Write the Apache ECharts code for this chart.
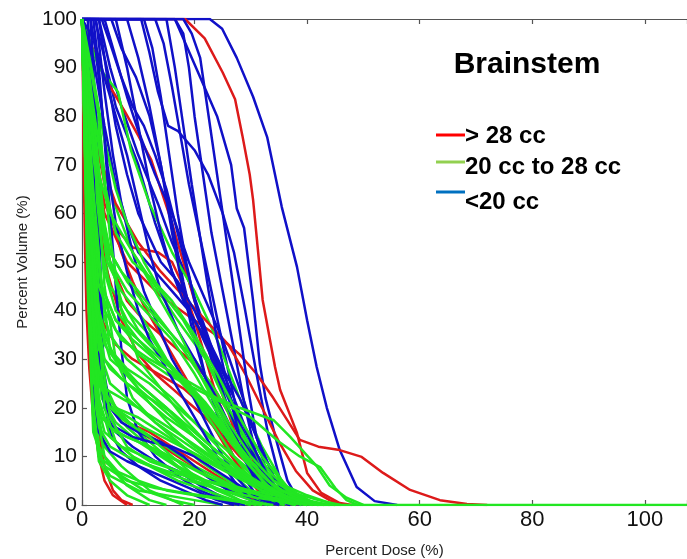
<!DOCTYPE html>
<html><head><meta charset="utf-8">
<script src="https://cdn.jsdelivr.net/npm/echarts@6/dist/echarts.min.js"></script>
<style>html,body{margin:0;padding:0;background:#fff}#c{width:687px;height:559px}</style>
</head><body><div id="c"></div>
<script>
// ---- Data (Percent Dose %, Percent Volume %) ----
const xTicks = [0, 20, 40, 60, 80, 100];
const yTicks = [0, 10, 20, 30, 40, 50, 60, 70, 80, 90, 100];
const legendLabels = ['> 28 cc', '20 cc to 28 cc', '<20 cc'];
const chartTitle = 'Brainstem';

const greenCurves = [
  [[0,100],[1,70],[2,30],[3,12],[5,8],[8,4],[12,1],[15,0]],
  [[0,100],[1,75],[2,40],[3,18],[4,12],[7,8],[12,3],[18,0]],
  [[0,100],[1.5,70],[3,40],[4,25],[6,20],[10,15],[15,10],[20,5],[25,1],[28,0]],
  [[0,100],[1,85],[2.5,55],[4,35],[6,30],[10,25],[15,20],[20,14],[25,8],[30,3],[35,0]],
  [[0,100],[2,80],[3.5,55],[5,45],[8,38],[12,33],[17,27],[22,20],[27,12],[32,5],[37,1],[40,0]],
  [[0,100],[1,60],[2,25],[3,10],[5,6],[10,3],[20,1],[25,0]],
  [[0,100],[2,85],[4,68],[6.4,60],[9,52],[13,45],[17,38],[22,30],[27,20],[32,10],[37,3],[42,0]],
  [[0,100],[3,90],[6.4,85],[8.7,73],[12,62],[16,52],[20,44],[24,34],[28,22],[32,12],[36,4],[40,0]],
  [[0,100],[1.5,75],[3,55],[5,45],[8,40],[12,35],[16,28],[20,22],[24,15],[28,8],[32,3],[35,0]],
  [[0,100],[1,65],[2.5,35],[4,22],[7,18],[11,15],[15,12],[20,8],[25,5],[30,2],[34,0]],
  [[0,100],[1,80],[2,60],[3,42],[5,35],[8,30],[12,26],[16,22],[20,17],[25,11],[30,5],[35,1],[38,0]],
  [[0,100],[1.5,78],[3,50],[5,32],[8,28],[12,25],[18,19],[24,13],[30,7],[36,3],[42,1],[46,0]],
  [[0,100],[0.8,70],[2,40],[3.5,22],[6,17],[10,13],[14,10],[18,7],[23,4],[28,1],[31,0]],
  [[0,100],[2,75],[3.5,60],[5,52],[8,46],[12,40],[16,35],[20,30],[24,23],[28,15],[32,8],[36,3],[39,0]],
  [[0,100],[1,72],[2,48],[3,32],[5,25],[9,21],[13,17],[17,13],[21,9],[26,5],[31,2],[35,0]],
  [[0,100],[1,55],[2,20],[3,9],[5,5],[8,2],[12,0]],
  [[0,100],[2,70],[4,48],[6,40],[10,34],[14,29],[19,24],[24,17],[29,10],[34,5],[40,2],[45,0]],
  [[0,100],[1,60],[3,28],[5,20],[8,16],[12,12],[17,8],[22,5],[27,3],[32,1],[36,0]],
  [[0,100],[1.5,82],[3,62],[4.5,50],[7,44],[11,38],[15,30],[19,24],[23,17],[27,10],[31,5],[35,2],[38,0]],
  [[0,100],[1,68],[2,42],[3,28],[4.5,22],[7,19],[11,16],[16,13],[21,10],[26,7],[31,4],[36,2],[40,0]],
  [[0,100],[0.7,80],[1.5,50],[2.5,20],[4,10],[7,6],[11,3],[16,1],[20,0]],
  [[0,100],[2,88],[4,75],[6,65],[8,58],[11,50],[14,44],[18,38],[22,30],[26,20],[30,12],[34,6],[38,2],[41,0]],
  [[0,100],[1,76],[2,55],[3,40],[5,32],[8,27],[12,21],[16,16],[20,12],[25,8],[30,5],[35,3],[40,1],[44,0]],
  [[0,100],[2,60],[4,40],[7,34],[12,30],[18,26],[24,22],[28,20],[34,17.5],[37,14],[41.7,8],[44,4],[47,1.5],[50,0]],
  [[0,100],[1.5,65],[3,45],[6,36],[10,31],[15,27],[20,24],[25,21],[30,18],[35,13],[38.7,10],[42.3,7.8],[45,3.5],[47,1],[49,0]],
  [[0,100],[1,62],[2,36],[3.5,24],[6,20],[10,18],[14,15],[18,12],[22,9],[27,6],[32,3],[37,1],[40,0]],
  [[0,100],[1,90],[2,78],[3,68],[5,60],[8,54],[11,48],[14,42],[17,36],[20,29],[24,20],[28,12],[32,6],[36,2],[39,0]],
  [[0,100],[1.2,70],[2.4,45],[4,33],[7,28],[10,24],[14,20],[18,16],[23,11],[28,6],[33,2],[36,0]],
  [[0,100],[0.5,85],[1.2,60],[2,38],[3,25],[5,20],[8,17],[12,14],[16,10],[20,6],[24,3],[28,1],[30,0]],
  [[0,100],[2,82],[4,66],[6,56],[9,50],[12,47],[16,42],[20,35],[24,27],[28,18],[32,10],[36,4],[40,1],[42,0]],
  [[0,100],[1,78],[2,58],[3.5,45],[6,38],[9,34],[13,30],[17,26],[21,21],[25,15],[29,9],[33,4],[37,1],[40,0]],
  [[0,100],[1,58],[2,30],[3,16],[5,12],[8,10],[12,8],[17,5],[22,3],[27,1],[30,0]],
  [[0,100],[1.5,80],[3,64],[5,52],[7,48],[10,44],[14,38],[18,32],[22,25],[26,17],[30,10],[34,5],[38,2],[41,0]],
  [[0,100],[1,66],[2,44],[3,32],[5,28],[8,25],[12,22],[16,19],[21,14],[26,9],[31,5],[36,2],[40,0]],
  [[0,100],[0.6,70],[1.5,40],[2.5,22],[4,15],[7,12],[11,10],[15,8],[20,5],[25,3],[30,1],[33,0]],
  [[0,100],[2,72],[3.5,58],[5,50],[8,44],[12,39],[16,34],[20,27],[24,19],[28,11],[32,5],[35,2],[38,0]],
  [[0,100],[1,50],[2,18],[3,10],[6,7],[10,5],[15,3],[20,2],[26,1],[32,0]],
  [[0,100],[1.5,60],[3,22],[5,14],[9,10],[14,7],[19,5],[25,3],[31,1.5],[37,0.5],[42,0]],
  [[0,100],[2,55],[4,20],[6,13],[10,9],[15,7],[20,5.5],[26,4],[32,2.5],[38,1],[44,0]],
  [[0,100],[1,45],[2,15],[4,8],[8,5],[13,3.5],[18,2.5],[24,1.5],[30,0.5],[34,0]],
  [[0,100],[1.5,65],[3,35],[5,18],[8,12],[12,9],[17,7],[22,5],[28,3],[34,1.5],[40,0.5],[45,0]],
  [[0,100],[2.5,70],[4,45],[6,30],[9,22],[13,17],[18,13],[23,9],[28,6],[33,3],[38,1],[43,0]],
  [[0,100],[1,72],[2,35],[3,20],[5,16],[8,14],[12,12],[17,9],[22,6],[27,4],[32,2],[37,0.5],[40,0]],
  [[0,100],[1.5,60],[3,38],[5,30],[8,27],[11,24],[15,20],[19,16],[24,11],[29,6],[34,2.5],[38,0.5],[41,0]],
  [[0,100],[1,55],[2.5,30],[4,24],[7,22],[10,20],[14,17],[18,14],[23,10],[28,6],[33,3],[38,1],[42,0]],
  [[0,100],[2,65],[3.5,45],[6,38],[9,35],[13,31],[17,27],[21,22],[25,16],[29,10],[33,5],[37,2],[41,0]],
  [[0,100],[1,50],[2,26],[3.5,18],[6,15],[10,13],[14,11],[19,8],[24,5],[29,3],[34,1],[38,0]],
  [[0,100],[2.5,75],[4.5,52],[7,42],[10,36],[14,31],[18,26],[22,21],[26,15],[30,9],[34,4],[38,1.5],[43,0]],
  [[0,100],[1.2,62],[2.5,40],[4,30],[7,26],[11,22],[15,18],[20,14],[25,9],[30,5],[35,2],[39,0]],
  [[0,100],[3,80],[5,55],[7,40],[10,30],[14,24],[18,18],[22,13],[27,8],[32,4],[37,1.5],[42,0],[108,0]]
];

const blueCurves = [
  [[0,100],[22.7,100],[24.9,98],[27.5,92],[30.4,84],[32.9,75.7],[35.5,61.3],[38.2,49],[40,38],[41.7,28.4],[43.5,20],[45.8,11.3],[48.8,3.7],[52,0.8],[56,0]],
  [[0,100],[16.5,100],[18,96],[21,88],[24,80],[26.5,70],[27.5,61],[28.8,57],[30.4,42],[31.6,29],[32.6,22],[34.6,13],[36.5,5],[38.5,1],[40,0]],
  [[0,100],[2.3,100],[4,92],[6,82],[8,76],[10,70],[13,58],[16,48],[20,38],[24,28],[28,18],[32,8],[35,2],[37,0]],
  [[0,100],[3,100],[5,90],[7,82],[10,72],[13.5,62],[16,54],[19,46],[22,36],[25,26],[28,16],[31,8],[34,2],[36,0]],
  [[0,100],[5.2,100],[7,94],[9.6,88],[12,80],[14,70],[16,58],[18,46],[20,36],[22,26],[25,15],[28,7],[31,2],[33,0]],
  [[0,100],[10.5,100],[12,93],[13.5,85],[15.3,78],[17,77],[20,73],[22.4,68],[25,60],[27,52],[29,40],[31,27],[33,15],[35,6],[37,1],[39,0]],
  [[0,100],[13,100],[14.5,95],[16,86],[17.5,76],[19,66],[21,55],[23,44],[25,33],[27,22],[29,12],[31,5],[33,1],[35,0]],
  [[0,100],[16.5,100],[18,97],[19,90],[20,80],[21.5,68],[23,56],[25,44],[27,32],[29,20],[31,10],[33,3],[35,0]],
  [[0,100],[18,100],[19.5,97],[21,92],[22,84],[23.5,72],[25,60],[26.5,48],[28,36],[29.5,24],[31,14],[33,6],[35,1],[37,0]],
  [[0,100],[2.5,100],[4,85],[5.5,72],[7,62],[9,52],[11,44],[13.5,37],[16,30],[19,24],[22,17],[25,10],[28,5],[31,1],[33,0]],
  [[0,100],[2,100],[3,90],[4,75],[5,60],[6,45],[7,32],[8,22],[10,15],[13,10],[17,6],[21,3],[25,1],[28,0]],
  [[0,100],[1.5,100],[2.5,80],[3,60],[3.5,40],[4,22],[5,15],[7,11],[10,8],[14,5],[18,3],[22,1],[25,0]],
  [[0,100],[3,100],[4.5,88],[6,78],[8,68],[10,60],[12,55],[14,50],[17,46],[20,40],[23,32],[26,22],[29,13],[32,6],[35,1],[37,0]],
  [[0,100],[1,100],[2,85],[2.5,65],[3,45],[3.5,28],[4.5,18],[6,15],[9,12],[13,9],[17,7],[21,4],[26,1],[29,0]],
  [[0,100],[4,100],[6,92],[8,84],[10,77],[13,68],[16,60],[19,50],[22,42],[25,34],[28,24],[31,14],[34,6],[37,1],[39,0]],
  [[0,100],[8,100],[10,92],[12,82],[14,70],[16,56],[18,44],[20,34],[22,26],[25,18],[28,11],[31,5],[34,1],[36,0]],
  [[0,100],[11,100],[12.5,94],[14,84],[15.5,72],[17,60],[18.5,50],[20,42],[22,35],[25,28],[28,22],[31,14],[34,6],[37,1],[39,0]],
  [[0,100],[2,96],[4,88],[6,80],[8,72],[10,62],[12,52],[14,44],[17,36],[20,30],[23,24],[26,17],[29,10],[32,4],[35,1],[37,0]],
  [[0,100],[0.5,90],[1,70],[1.5,45],[2,25],[3,15],[5,11],[8,9],[12,7],[16,5],[20,3],[24,1],[27,0]],
  [[0,100],[1,95],[2,70],[2.5,50],[3.5,30],[5,20],[7,17],[10,15],[14,13],[18,10],[22,6],[26,3],[30,1],[33,0]],
  [[0,100],[3.5,100],[5,95],[7,88],[9,82],[11,78],[13,72],[15,65],[17,56],[19,47],[21,38],[23,30],[26,20],[29,11],[32,4],[35,0]],
  [[0,100],[2,92],[4,78],[6,66],[8,58],[10,52],[13,48],[16,44],[19,40],[22,34],[25,26],[28,17],[31,9],[34,3],[37,0]],
  [[0,100],[1,80],[2,50],[3,30],[4,20],[6,16],[9,14],[12,13],[16,12],[20,10],[24,7],[28,4],[32,1],[35,0]],
  [[0,100],[6,100],[8,90],[10,78],[12,66],[14,56],[16,48],[18,42],[21,36],[24,30],[27,22],[30,13],[33,6],[36,1],[38,0]],
  [[0,100],[15,100],[16.5,90],[18,78],[19.5,66],[21,55],[22.5,44],[24,34],[26,24],[28,14],[30,7],[32,2],[34,0]],
  [[0,100],[1.5,100],[2.5,93],[3.5,82],[4.5,70],[6,58],[8,48],[10,40],[12,34],[15,28],[18,22],[21,16],[24,10],[27,5],[30,1],[32,0]]
];

// steep reds hugging the y axis are drawn first (underneath)
const redSteepCurves = [
  [[0,100],[0.2,85],[0.3,70],[0.5,55],[0.8,40],[1.3,28],[2,18],[3,10],[4,5],[5.5,2],[8,0]],
  [[0,100],[1,60],[2,30],[3,15],[4,8],[5.5,3],[7,1],[9,0]],
  [[0,100],[0.8,70],[1.8,40],[3,25],[5,20],[8,17],[12,15],[16,12],[20,9],[24,6],[28,3],[32,1],[35,0]],
  [[0,100],[0.5,75],[1,52],[2,35],[3.5,25],[6,20],[9,16],[13,13],[17,10],[21,7],[25,4],[29,2],[33,0]]
];

const redCurves = [
  [[0,100],[18.3,100],[21.8,96],[25,89],[27.2,83.5],[28.5,76],[29.8,68],[30.4,62.8],[31.3,52],[32.1,42.2],[33.4,34],[34.3,28.4],[35.2,23.7],[36.8,19],[38.2,14.8],[40,6.6],[42.5,2.5],[45.8,0.4],[48,0]],
  [[0,100],[2,75],[4,60],[8,50],[14,43],[20,38],[25,34],[28,31],[31,27],[34,22],[38.7,13.4],[42,12],[45.8,11.3],[49.7,9.9],[53.5,6.6],[58.3,3.1],[63.6,1],[68.4,0.2],[72,0]],
  [[0,100],[1,88],[2.5,72],[4,62],[6,57],[9,53],[11,52.5],[13.5,52],[16,50],[18,45],[20,38],[22,30],[24,22],[27,14],[30,7],[33,2],[35,0]],
  [[0,100],[1.5,95],[4,88],[7.6,81],[10,76],[12.3,71],[14,65],[16,58],[18,50],[20,42],[22,34],[24,26],[26,19],[28,12],[31,5],[34,1],[36,0]],
  [[0,100],[1,70],[2,48],[3.5,38],[6,33],[9,30],[12,28],[15,26],[18,24],[21,21],[24,16],[27,10],[30,5],[33,1],[35,0]],
  [[0,100],[1.5,80],[3,62],[5,50],[8,42],[11,38],[14,35],[17,32],[20,29],[23,25],[26,19],[29,12],[32,6],[35,2],[38,0]],
  [[0,100],[2,70],[4,50],[7,38],[10,31],[13,27],[16,24],[19,21],[22,18],[25,14],[28,10],[31,7],[34,4],[37,2],[40,0]],
  [[0,100],[1.5,85],[3,72],[6,62],[10,54],[14,48],[18,43],[22,38],[26,33],[29,27],[32,20],[35,13],[38,7],[41,3],[44,1],[46,0]],
  [[0,100],[1,90],[3,72],[5,60],[7,52],[9,46],[11,41],[14,35],[17,29],[20,23],[23,17],[26,11],[29,6],[32,2],[35,0]]
];

// ---- Styles ----
const FONT = '"Liberation Sans", Arial, Helvetica, sans-serif';
const LINE_COLORS = { red: '#dd1a1a', green: '#22e622', blue: '#1010c8' };
const LEGEND_COLORS = ['#ff0000', '#92d050', '#0070c0'];

const series = [];
function addCurve(data, color) {
  series.push({
    type: 'line', data: data, showSymbol: false, symbol: 'none',
    smooth: false, silent: true, animation: false,
    lineStyle: { color: color, width: 2.5 }
  });
}
redSteepCurves.forEach(c => addCurve(c, LINE_COLORS.red));
const nMax = Math.max(greenCurves.length, blueCurves.length, redCurves.length);
for (let i = 0; i < nMax; i++) {
  if (blueCurves[i]) addCurve(blueCurves[i], LINE_COLORS.blue);
  if (greenCurves[i]) addCurve(greenCurves[i], LINE_COLORS.green);
  if (redCurves[i]) addCurve(redCurves[i], LINE_COLORS.red);
}

const axisLineStyle = { color: '#555', width: 1.2 };
const chart = echarts.init(document.getElementById('c'), null, { renderer: 'canvas' });

const legendGraphics = [];
const legY = [135, 162, 192];
const legTextY = [136, 167, 202];
for (let i = 0; i < legendLabels.length; i++) {
  legendGraphics.push({
    type: 'line', shape: { x1: 436, y1: legY[i], x2: 465, y2: legY[i] },
    style: { stroke: LEGEND_COLORS[i], lineWidth: 3 }, z: 100
  });
  legendGraphics.push({
    type: 'text', x: 465, y: legTextY[i],
    style: { text: legendLabels[i], font: 'bold 24px ' + FONT, fill: '#000', textVerticalAlign: 'middle', verticalAlign: 'middle' }, z: 100
  });
}
legendGraphics.push({
  type: 'text', x: 527, y: 65,
  style: { text: chartTitle, font: 'bold 30px ' + FONT, fill: '#000', textAlign: 'center', align: 'center', textVerticalAlign: 'middle', verticalAlign: 'middle' }, z: 100
});

chart.setOption({
  backgroundColor: '#fff',
  animation: false,
  grid: { left: 82, right: 0, top: 19, bottom: 54, containLabel: false, outerBoundsMode: 'none' },
  xAxis: [{
    type: 'value', min: 0, max: 107.5, interval: 20,
    name: 'Percent Dose (%)', nameLocation: 'middle', nameGap: 38,
    nameTextStyle: { fontFamily: FONT, fontSize: 15, color: '#222' },
    axisLine: { show: true, lineStyle: axisLineStyle },
    axisTick: { show: true, inside: true, length: 5, lineStyle: axisLineStyle },
    axisLabel: { fontFamily: FONT, fontSize: 22, color: '#111', margin: 4,
      formatter: v => (xTicks.indexOf(v) >= 0 ? String(v) : '') },
    splitLine: { show: false }
  }, {
    type: 'value', min: 0, max: 107.5, interval: 20, position: 'top',
    axisLine: { show: true, lineStyle: axisLineStyle },
    axisTick: { show: true, inside: true, length: 5, lineStyle: axisLineStyle },
    axisLabel: { show: false }, splitLine: { show: false }
  }],
  yAxis: [{
    type: 'value', min: 0, max: 100, interval: 10,
    name: 'Percent Volume (%)', nameLocation: 'middle', nameGap: 52, nameRotate: 90,
    nameTextStyle: { fontFamily: FONT, fontSize: 15, color: '#222' },
    axisLine: { show: true, lineStyle: axisLineStyle },
    axisTick: { show: true, inside: true, length: 5, lineStyle: axisLineStyle },
    axisLabel: { fontFamily: FONT, fontSize: 21, color: '#111', margin: 5,
      formatter: v => (yTicks.indexOf(v) >= 0 ? String(v) : '') },
    splitLine: { show: false }
  }],
  graphic: legendGraphics,
  series: series
});
</script>
</body></html>
